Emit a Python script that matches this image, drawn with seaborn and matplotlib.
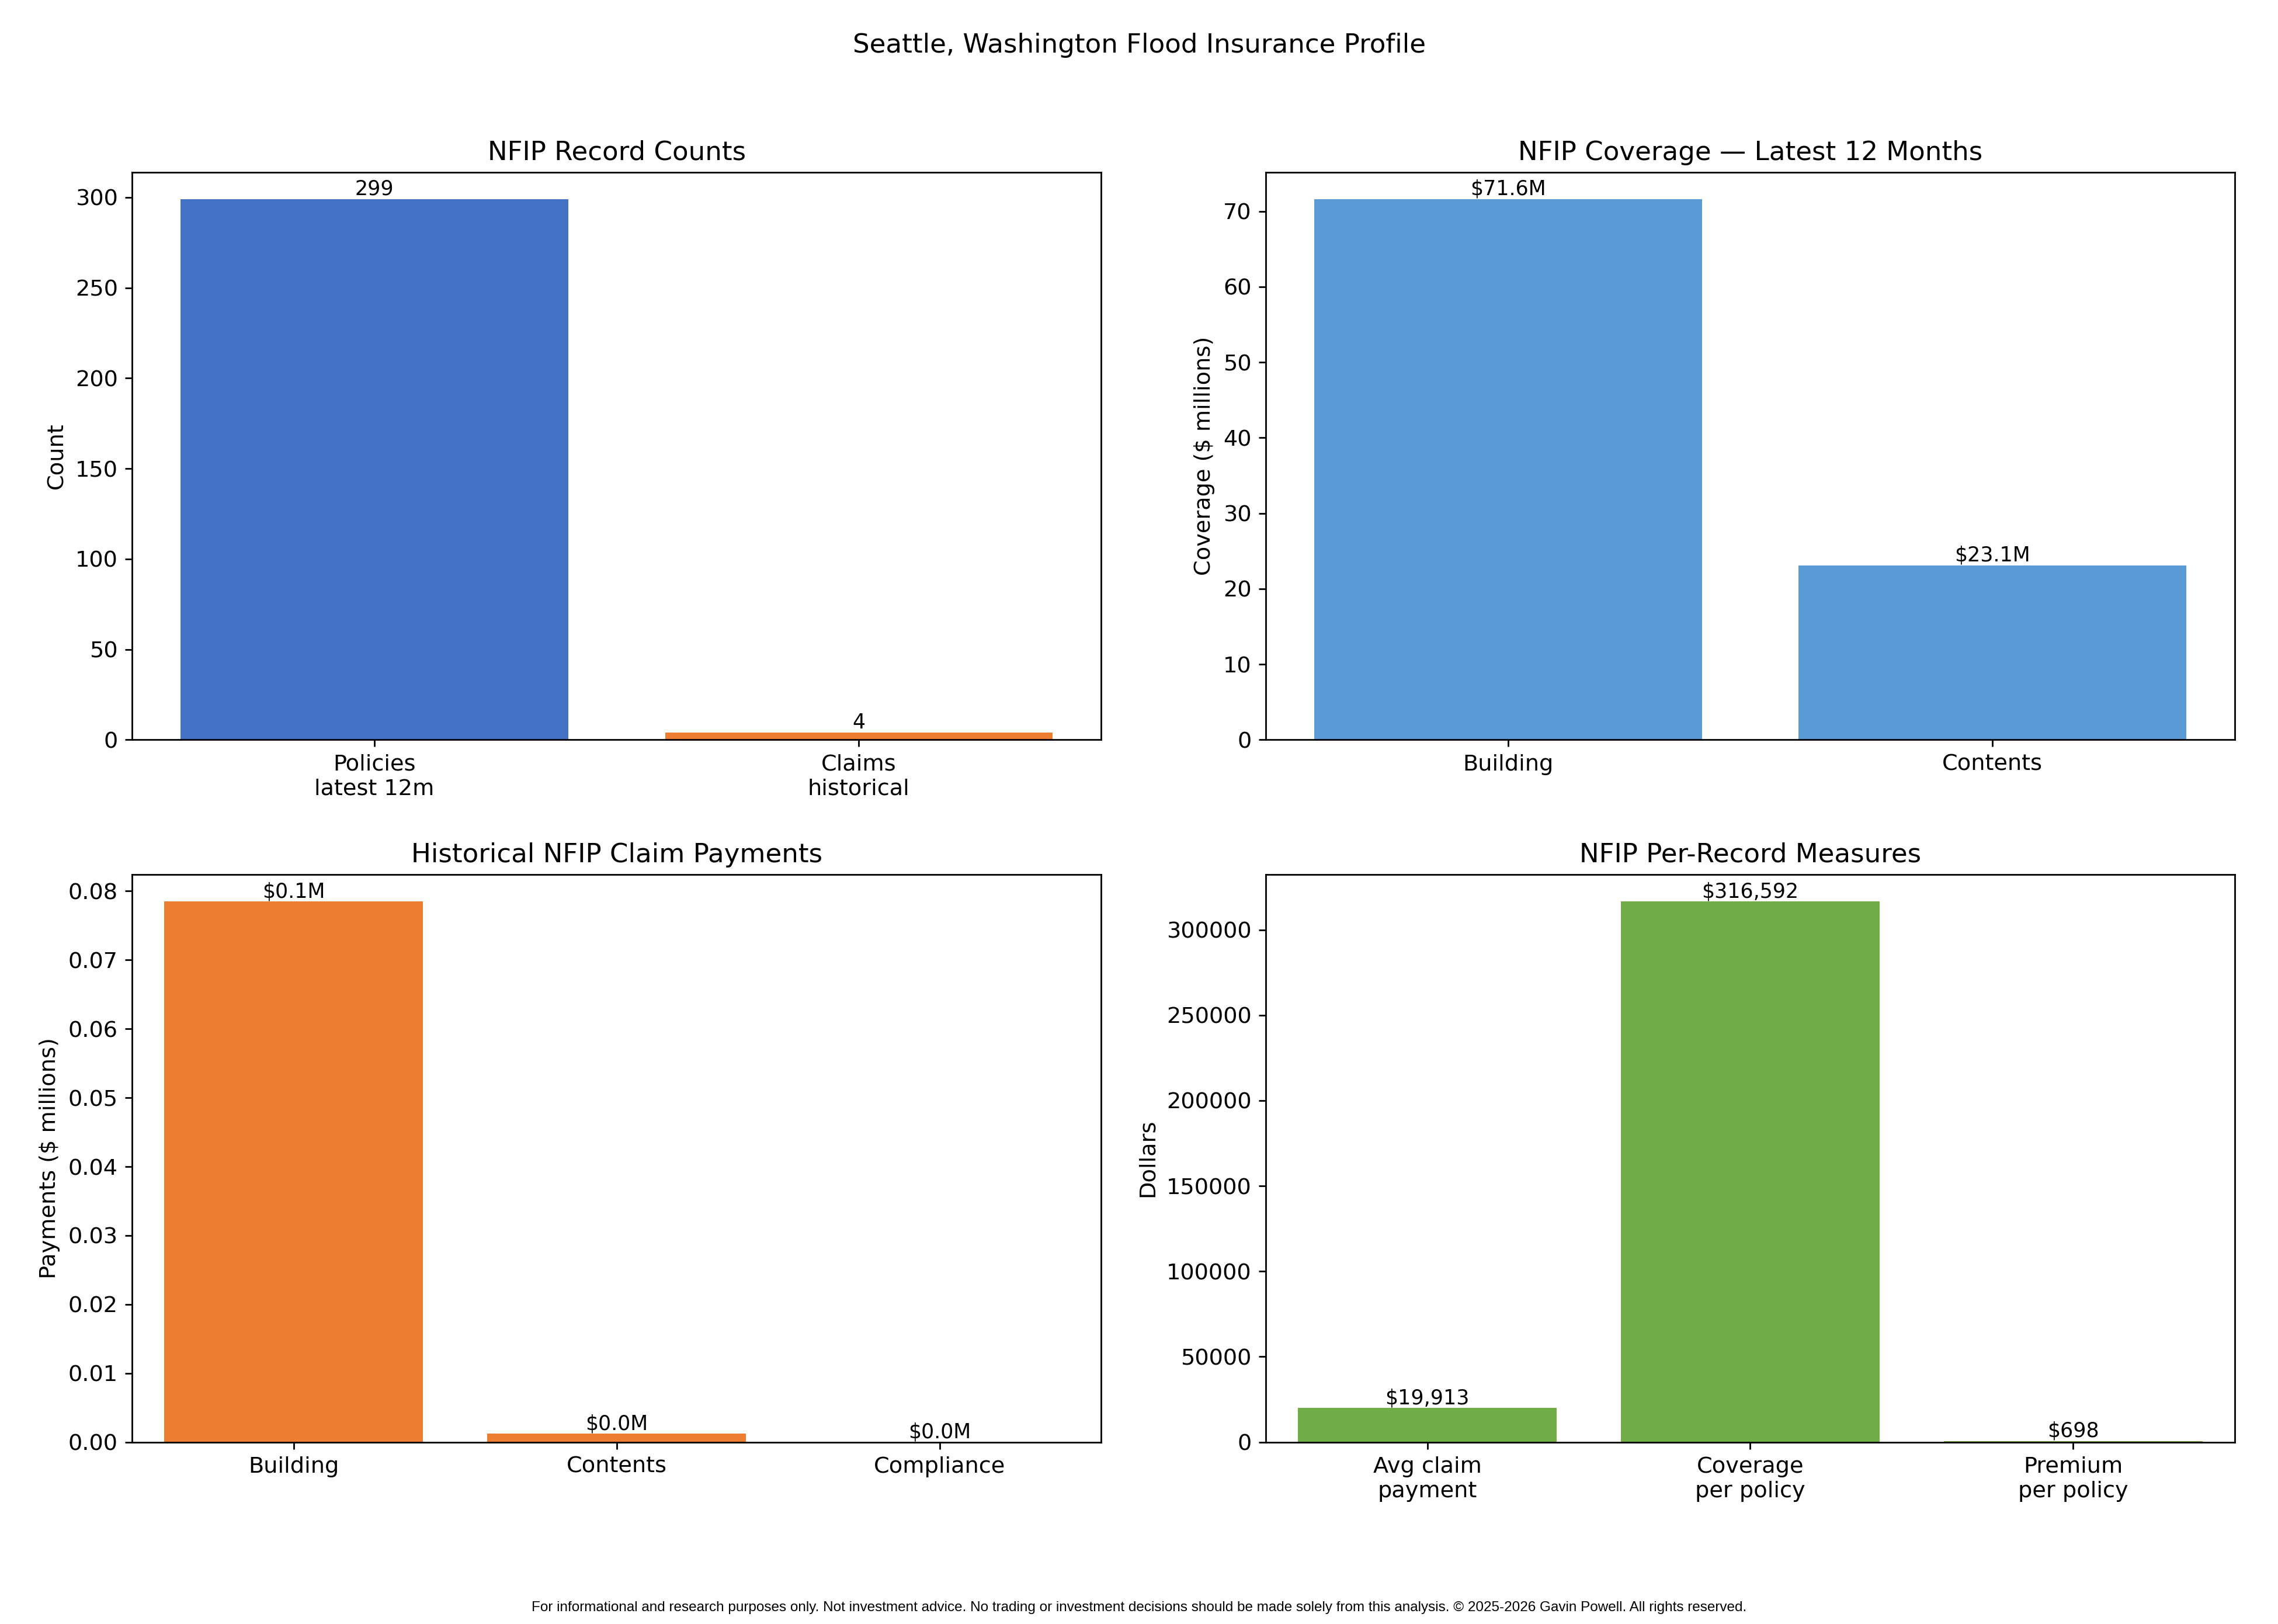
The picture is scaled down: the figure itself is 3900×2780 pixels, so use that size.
import matplotlib
matplotlib.use("Agg")
import matplotlib.pyplot as plt
import seaborn as sns

count_cats = ["Policies\nlatest 12m", "Claims\nhistorical"]
count_vals = [299, 4]
cov_cats = ["Building", "Contents"]
cov_vals = [71.6, 23.1]
pay_cats = ["Building", "Contents", "Compliance"]
pay_vals = [0.0785, 0.0012, 0.0]
rec_cats = ["Avg claim\npayment", "Coverage\nper policy", "Premium\nper policy"]
rec_vals = [19913, 316592, 698]

fig, axes = plt.subplots(2, 2, figsize=(15.6, 11.12), dpi=250)
plt.subplots_adjust(left=0.058, right=0.981, top=0.894, bottom=0.112, wspace=0.17, hspace=0.237)

def draw(ax, cats, vals, colors, title, ylabel, fmt):
    sns.barplot(x=cats, y=vals, hue=cats, palette=colors, legend=False, ax=ax, width=0.8, saturation=1)
    for c, v in zip(ax.containers, vals):
        ax.bar_label(c, labels=[fmt(v)], fontsize=10)
    ax.set_title(title, fontsize=13)
    ax.set_ylabel(ylabel, fontsize=11)
    ax.tick_params(labelsize=11)

draw(axes[0, 0], count_cats, count_vals, ["#4472C4", "#ED7D31"], "NFIP Record Counts", "Count", lambda v: f"{v}")
draw(axes[0, 1], cov_cats, cov_vals, ["#5B9BD5", "#5B9BD5"], "NFIP Coverage — Latest 12 Months", "Coverage ($ millions)", lambda v: f"${v:.1f}M")
draw(axes[1, 0], pay_cats, pay_vals, ["#ED7D31"] * 3, "Historical NFIP Claim Payments", "Payments ($ millions)", lambda v: f"${v:.1f}M")
draw(axes[1, 1], rec_cats, rec_vals, ["#70AD47"] * 3, "NFIP Per-Record Measures", "Dollars", lambda v: f"${v:,.0f}")

fig.suptitle("Seattle, Washington Flood Insurance Profile", fontsize=13, y=0.98)
fig.text(0.5, 0.006, "For informational and research purposes only. Not investment advice. No trading or investment decisions should be made solely from this analysis. © 2025-2026 Gavin Powell. All rights reserved.",
         ha="center", va="bottom", fontsize=7, family=["Liberation Sans", "DejaVu Sans"])
fig.savefig("out.png", dpi=250)
